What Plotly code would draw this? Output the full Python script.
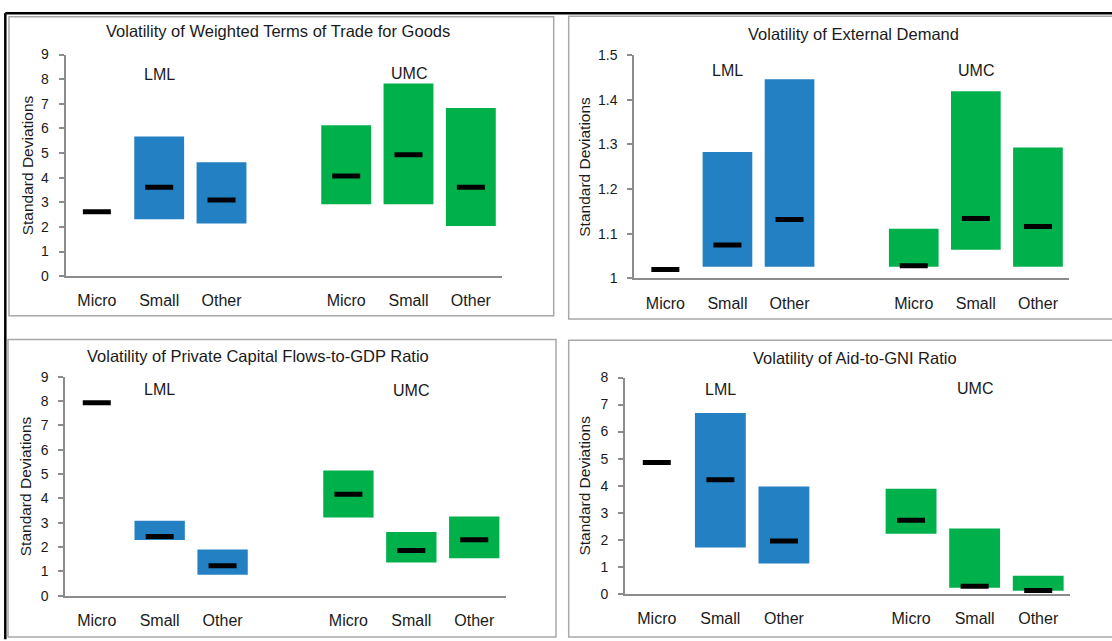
import plotly.graph_objects as go

# ---------------- data ----------------
categories = ["Micro", "Small", "Other"]
groups = ["LML", "UMC"]

titles = [
    "Volatility of Weighted Terms of Trade for Goods",
    "Volatility of External Demand",
    "Volatility of Private Capital Flows-to-GDP Ratio",
    "Volatility of Aid-to-GNI Ratio",
]
y_axis_title = "Standard Deviations"

# Panel 1: Weighted terms of trade for goods
tot_lml_low = [None, 2.31, 2.14]
tot_lml_high = [None, 5.67, 4.62]
tot_lml_median = [2.61, 3.61, 3.09]
tot_umc_low = [2.92, 2.92, 2.04]
tot_umc_high = [6.13, 7.82, 6.83]
tot_umc_median = [4.07, 4.93, 3.61]

# Panel 2: External demand
ext_lml_low = [None, 1.026, 1.026]
ext_lml_high = [None, 1.283, 1.446]
ext_lml_median = [1.020, 1.075, 1.132]
ext_umc_low = [1.026, 1.064, 1.026]
ext_umc_high = [1.111, 1.419, 1.293]
ext_umc_median = [1.028, 1.134, 1.116]

# Panel 3: Private capital flows-to-GDP ratio
pcf_lml_low = [None, 2.29, 0.86]
pcf_lml_high = [None, 3.08, 1.90]
pcf_lml_median = [7.94, 2.43, 1.23]
pcf_umc_low = [3.22, 1.36, 1.54]
pcf_umc_high = [5.15, 2.62, 3.26]
pcf_umc_median = [4.17, 1.86, 2.30]

# Panel 4: Aid-to-GNI ratio
aid_lml_low = [None, 1.71, 1.12]
aid_lml_high = [None, 6.69, 3.97]
aid_lml_median = [4.86, 4.22, 1.95]
aid_umc_low = [2.22, 0.22, 0.11]
aid_umc_high = [3.88, 2.41, 0.66]
aid_umc_median = [2.72, 0.28, 0.12]

y_ranges = [[0, 9], [1, 1.5], [0, 9], [0, 8]]
y_dticks = [1, 0.1, 1, 1]

panels = [
    (tot_lml_low, tot_lml_high, tot_lml_median, tot_umc_low, tot_umc_high, tot_umc_median),
    (ext_lml_low, ext_lml_high, ext_lml_median, ext_umc_low, ext_umc_high, ext_umc_median),
    (pcf_lml_low, pcf_lml_high, pcf_lml_median, pcf_umc_low, pcf_umc_high, pcf_umc_median),
    (aid_lml_low, aid_lml_high, aid_lml_median, aid_umc_low, aid_umc_high, aid_umc_median),
]

# ---------------- styling / layout ----------------
W, H = 1112, 641
BLUE = "#2380C3"
GREEN = "#00B04A"
AXIS_GREY = "#8C8C8C"
BORDER_GREY = "#A8A8A8"
TEXT = "#1a1a1a"
FONT = "Liberation Sans, Arial, sans-serif"

def px_x(v):
    return v / W

def px_y(v):
    return 1 - v / H

# plot-area pixel boxes: (x0, x1, ytop, ybottom)
plot_boxes = [
    (65.7, 502.0, 47.7, 275.0),
    (634.3, 1069.0, 48.3, 277.3),
    (65.3, 505.7, 378.3, 602.7),
    (625.0, 1070.0, 379.0, 600.7),
]
# panel frame boxes: (x0, x1, ytop, ybottom)
frame_boxes = [
    (9.0, 553.7, 9.0, 315.7),
    (568.7, 1116.0, 8.5, 319.0),
    (8.0, 556.0, 340.0, 645.0),
    (568.7, 1116.0, 340.7, 645.0),
]
title_pos = [(278, 24), (853, 27), (258, 357), (855, 359)]
ytitle_x = [27, 585, 25, 585]
group_label_y = [(0.911, 0.915), (0.931, 0.931), (0.940, 0.936), (0.943, 0.947)]

lml_pos = [0, 1, 2]
umc_pos = [4, 5, 6]

fig = go.Figure()
shapes = []
annotations = []

for i, (ll, lh, lm, ul, uh, um) in enumerate(panels):
    n = "" if i == 0 else str(i + 1)
    xa, ya = "x" + n, "y" + n
    for pos, low, high, color in ((lml_pos, ll, lh, BLUE), (umc_pos, ul, uh, GREEN)):
        bx, bb, bh = [], [], []
        for p, lo, hi in zip(pos, low, high):
            if lo is None or hi is None:
                continue
            bx.append(p)
            bb.append(lo)
            bh.append(hi - lo)
        fig.add_trace(go.Bar(
            x=bx, y=bh, base=bb, width=0.8, marker=dict(color=color, line=dict(width=0)),
            xaxis=xa, yaxis=ya, showlegend=False, hoverinfo="skip",
        ))
    fig.add_trace(go.Scatter(
        x=lml_pos + umc_pos, y=lm + um, mode="markers",
        marker=dict(symbol="line-ew", size=20, line=dict(width=5, color="black"), color="black"),
        xaxis=xa, yaxis=ya, showlegend=False, hoverinfo="skip",
    ))

    x0, x1, yt, yb = plot_boxes[i]
    fig.update_layout(**{
        "xaxis" + n: dict(
            domain=[px_x(x0), px_x(x1)], range=[-0.5, 6.5], anchor=ya,
            tickvals=lml_pos + umc_pos, ticktext=categories + categories,
            showline=True, linecolor=AXIS_GREY, linewidth=2, ticks="",
            showgrid=False, zeroline=False, ticklabelstandoff=9,
            tickfont=dict(size=16, color=TEXT, family=FONT), fixedrange=True,
        ),
        "yaxis" + n: dict(
            domain=[px_y(yb), px_y(yt)], range=y_ranges[i], dtick=y_dticks[i], anchor=xa,
            showline=True, linecolor=AXIS_GREY, linewidth=2, ticks="outside",
            ticklen=5, tickwidth=1.5, tickcolor=AXIS_GREY,
            showgrid=False, zeroline=False, ticklabelstandoff=7,
            tickfont=dict(size=14, color=TEXT, family=FONT), fixedrange=True,
        ),
    })

    fx0, fx1, fyt, fyb = frame_boxes[i]
    shapes.append(dict(type="rect", xref="paper", yref="paper",
                       x0=px_x(fx0), x1=px_x(fx1), y0=px_y(fyb), y1=px_y(fyt),
                       line=dict(color=BORDER_GREY, width=1.5), fillcolor="rgba(0,0,0,0)", layer="below"))

    tx, ty = title_pos[i]
    annotations.append(dict(text=titles[i], xref="paper", yref="paper", x=px_x(tx), y=px_y(ty),
                            xanchor="center", yanchor="middle", showarrow=False,
                            font=dict(size=16.5, color=TEXT, family=FONT)))
    annotations.append(dict(text=y_axis_title, xref="paper", yref="paper",
                            x=px_x(ytitle_x[i]), y=px_y((yt + yb) / 2 + 0),
                            xanchor="center", yanchor="middle", textangle=-90, showarrow=False,
                            font=dict(size=15.5, color=TEXT, family=FONT)))
    for g, gx, gy in zip(groups, (lml_pos[1], umc_pos[1]), group_label_y[i]):
        annotations.append(dict(text=g, xref=xa, yref=ya + " domain", x=gx, y=gy,
                                xanchor="center", yanchor="middle", showarrow=False,
                                font=dict(size=16, color=TEXT, family=FONT)))

# outer black frame (top and left edges)
shapes.append(dict(type="line", xref="paper", yref="paper", x0=px_x(5.3), x1=1.01, y0=px_y(5.3), y1=px_y(5.3),
                   line=dict(color="black", width=2.5)))
shapes.append(dict(type="line", xref="paper", yref="paper", x0=px_x(5.3), x1=px_x(5.3), y0=-0.01, y1=px_y(5.3),
                   line=dict(color="black", width=2.5)))

fig.update_layout(
    autosize=True, margin=dict(l=0, r=0, t=0, b=0),
    paper_bgcolor="white", plot_bgcolor="white",
    barmode="overlay", shapes=shapes, annotations=annotations,
    font=dict(family=FONT, color=TEXT),
)

fig.write_html(
    "out.html",
    config={"displayModeBar": False, "responsive": True},
    default_width="100vw",
    default_height="100vh",
    post_script="document.body.style.margin='0';document.body.style.overflow='hidden';",
)
